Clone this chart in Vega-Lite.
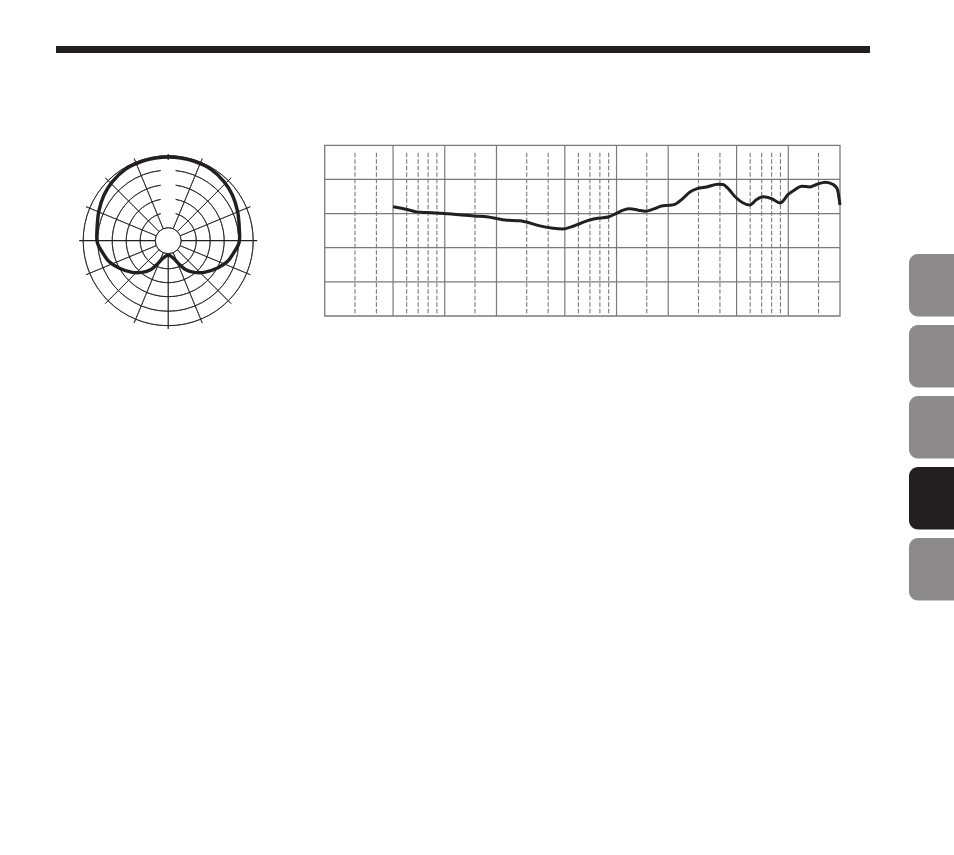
{
  "$schema": "https://vega.github.io/schema/vega-lite/v6.json",
  "width": 954,
  "height": 855,
  "autosize": "none",
  "padding": 0,
  "background": "white",
  "config": {"view": {"stroke": null}},
  "datasets": {
    "header": [{"part": "header bar"}],
    "frame": [{"part": "frequency response frame"}],
    "tabs": [
      {"tab": 1, "state": "inactive"},
      {"tab": 2, "state": "inactive"},
      {"tab": 3, "state": "inactive"},
      {"tab": 4, "state": "active"},
      {"tab": 5, "state": "inactive"}
    ],
    "rings": [
      {"r": 0.153, "start": 0, "end": 360},
      {"r": 0.33, "start": 15.5, "end": 344.5},
      {"r": 0.494, "start": 10.3, "end": 349.7},
      {"r": 0.659, "start": 7.7, "end": 352.3},
      {"r": 0.83, "start": 6.1, "end": 353.9},
      {"r": 1.0, "start": 0, "end": 360}
    ],
    "spokes": [
      {"angle": 0, "inner": 0.95, "outer": 1.02, "kind": "axis"},
      {"angle": 22.5, "inner": 0.153, "outer": 1.047, "kind": "spoke"},
      {"angle": 45, "inner": 0.153, "outer": 1.047, "kind": "spoke"},
      {"angle": 67.5, "inner": 0.153, "outer": 1.047, "kind": "spoke"},
      {"angle": 90, "inner": 0.153, "outer": 1.047, "kind": "axis"},
      {"angle": 112.5, "inner": 0.153, "outer": 1.047, "kind": "spoke"},
      {"angle": 135, "inner": 0.153, "outer": 1.047, "kind": "spoke"},
      {"angle": 157.5, "inner": 0.153, "outer": 1.047, "kind": "spoke"},
      {"angle": 180, "inner": 0.153, "outer": 1.04, "kind": "axis"},
      {"angle": 202.5, "inner": 0.153, "outer": 1.047, "kind": "spoke"},
      {"angle": 225, "inner": 0.153, "outer": 1.047, "kind": "spoke"},
      {"angle": 247.5, "inner": 0.153, "outer": 1.047, "kind": "spoke"},
      {"angle": 270, "inner": 0.153, "outer": 1.047, "kind": "axis"},
      {"angle": 292.5, "inner": 0.153, "outer": 1.047, "kind": "spoke"},
      {"angle": 315, "inner": 0.153, "outer": 1.047, "kind": "spoke"},
      {"angle": 337.5, "inner": 0.153, "outer": 1.047, "kind": "spoke"}
    ],
    "polar": [
      {"i": 0, "x": 0.0, "y": -0.16},
      {"i": 1, "x": 0.069, "y": -0.212},
      {"i": 2, "x": 0.135, "y": -0.282},
      {"i": 3, "x": 0.208, "y": -0.341},
      {"i": 4, "x": 0.306, "y": -0.372},
      {"i": 5, "x": 0.424, "y": -0.372},
      {"i": 6, "x": 0.58, "y": -0.321},
      {"i": 7, "x": 0.7, "y": -0.242},
      {"i": 8, "x": 0.775, "y": -0.135},
      {"i": 9, "x": 0.82, "y": -0.06},
      {"i": 10, "x": 0.838, "y": 0.0},
      {"i": 11, "x": 0.838, "y": 0.12},
      {"i": 12, "x": 0.817, "y": 0.342},
      {"i": 13, "x": 0.755, "y": 0.538},
      {"i": 14, "x": 0.656, "y": 0.695},
      {"i": 15, "x": 0.5, "y": 0.842},
      {"i": 16, "x": 0.3, "y": 0.935},
      {"i": 17, "x": 0.15, "y": 0.972},
      {"i": 18, "x": 0.0, "y": 0.985},
      {"i": 19, "x": -0.15, "y": 0.972},
      {"i": 20, "x": -0.3, "y": 0.935},
      {"i": 21, "x": -0.5, "y": 0.842},
      {"i": 22, "x": -0.656, "y": 0.695},
      {"i": 23, "x": -0.755, "y": 0.538},
      {"i": 24, "x": -0.817, "y": 0.342},
      {"i": 25, "x": -0.838, "y": 0.12},
      {"i": 26, "x": -0.838, "y": 0.0},
      {"i": 27, "x": -0.82, "y": -0.06},
      {"i": 28, "x": -0.775, "y": -0.135},
      {"i": 29, "x": -0.7, "y": -0.242},
      {"i": 30, "x": -0.58, "y": -0.321},
      {"i": 31, "x": -0.424, "y": -0.372},
      {"i": 32, "x": -0.306, "y": -0.372},
      {"i": 33, "x": -0.208, "y": -0.341},
      {"i": 34, "x": -0.135, "y": -0.282},
      {"i": 35, "x": -0.069, "y": -0.212},
      {"i": 36, "x": 0.0, "y": -0.16}
    ],
    "grid_h": [{"db": -20}, {"db": -10}, {"db": 0}, {"db": 10}],
    "grid_v": [
      {"f": 60, "kind": "dashed"}, {"f": 80, "kind": "dashed"}, {"f": 100, "kind": "solid"},
      {"f": 120, "kind": "dashed"}, {"f": 140, "kind": "dashed"}, {"f": 160, "kind": "dashed"}, {"f": 180, "kind": "dashed"},
      {"f": 200, "kind": "solid"}, {"f": 300, "kind": "dashed"}, {"f": 400, "kind": "solid"},
      {"f": 600, "kind": "dashed"}, {"f": 800, "kind": "dashed"}, {"f": 1000, "kind": "solid"},
      {"f": 1200, "kind": "dashed"}, {"f": 1400, "kind": "dashed"}, {"f": 1600, "kind": "dashed"}, {"f": 1800, "kind": "dashed"},
      {"f": 2000, "kind": "solid"}, {"f": 3000, "kind": "dashed"}, {"f": 4000, "kind": "solid"},
      {"f": 6000, "kind": "dashed"}, {"f": 8000, "kind": "dashed"}, {"f": 10000, "kind": "solid"},
      {"f": 12000, "kind": "dashed"}, {"f": 14000, "kind": "dashed"}, {"f": 16000, "kind": "dashed"}, {"f": 18000, "kind": "dashed"},
      {"f": 20000, "kind": "solid"}, {"f": 30000, "kind": "dashed"}
    ],
    "response": [
      {"f": 100, "db": 2.0}, {"f": 121, "db": 1.2}, {"f": 138, "db": 0.5}, {"f": 158, "db": 0.3},
      {"f": 198, "db": 0.0}, {"f": 297, "db": -0.7}, {"f": 358, "db": -1.0}, {"f": 397, "db": -1.4},
      {"f": 448, "db": -1.9}, {"f": 548, "db": -2.1}, {"f": 588, "db": -2.4}, {"f": 716, "db": -3.6},
      {"f": 856, "db": -4.3}, {"f": 979, "db": -4.5}, {"f": 1119, "db": -3.7}, {"f": 1224, "db": -2.9},
      {"f": 1387, "db": -1.9}, {"f": 1586, "db": -1.3}, {"f": 1789, "db": -1.0}, {"f": 1983, "db": 0.0},
      {"f": 2188, "db": 1.0}, {"f": 2392, "db": 1.4}, {"f": 2675, "db": 1.0}, {"f": 2938, "db": 0.7},
      {"f": 3270, "db": 1.3}, {"f": 3660, "db": 2.2}, {"f": 4000, "db": 2.4}, {"f": 4375, "db": 2.7},
      {"f": 4786, "db": 4.1}, {"f": 5349, "db": 6.3}, {"f": 5898, "db": 7.3}, {"f": 6690, "db": 7.8},
      {"f": 7816, "db": 8.6}, {"f": 8356, "db": 8.5}, {"f": 8936, "db": 7.3}, {"f": 9906, "db": 4.7},
      {"f": 10925, "db": 3.1}, {"f": 11950, "db": 2.5}, {"f": 13077, "db": 4.1}, {"f": 14285, "db": 4.9},
      {"f": 15983, "db": 4.4}, {"f": 17937, "db": 3.1}, {"f": 19971, "db": 5.6}, {"f": 21846, "db": 7.0},
      {"f": 23893, "db": 8.0}, {"f": 26710, "db": 7.8}, {"f": 29450, "db": 8.6}, {"f": 32961, "db": 9.2},
      {"f": 36500, "db": 8.5}, {"f": 38510, "db": 7.3}, {"f": 40000, "db": 2.5}
    ]
  },
  "layer": [
    {
      "data": {"name": "header"},
      "mark": {"type": "rect", "color": "#231f20"},
      "encoding": {
        "x": {"datum": 0, "type": "quantitative", "scale": {"domain": [0, 1], "range": [56, 870]}, "axis": null},
        "x2": {"datum": 1},
        "y": {"datum": 0, "type": "quantitative", "scale": {"domain": [0, 1], "range": [46, 53]}, "axis": null},
        "y2": {"datum": 1}
      }
    },
    {
      "data": {"name": "tabs"},
      "mark": {"type": "rect", "cornerRadius": 9, "clip": true},
      "encoding": {
        "x": {"datum": 0, "type": "quantitative", "scale": {"domain": [0, 1], "range": [909, 975]}, "axis": null},
        "x2": {"datum": 1},
        "y": {"field": "tab", "type": "ordinal", "scale": {"type": "band", "range": [254, 600.5], "paddingInner": 0.12, "paddingOuter": 0}, "axis": null},
        "color": {"field": "state", "type": "nominal", "scale": {"domain": ["inactive", "active"], "range": ["#8c8a8a", "#231f20"]}, "legend": null}
      }
    },
    {
      "layer": [
        {
          "data": {"name": "rings"},
          "mark": {"type": "arc", "filled": false, "stroke": "#231f20", "strokeWidth": 0.8},
          "encoding": {
            "x": {"datum": 0, "type": "quantitative", "scale": {"domain": [-1, 1], "range": [83.2, 253.2], "nice": false, "zero": false}, "axis": null},
            "y": {"datum": 0, "type": "quantitative", "scale": {"domain": [-1, 1], "range": [325.7, 155.7], "nice": false, "zero": false}, "axis": null},
            "theta": {"field": "start", "type": "quantitative", "scale": {"domain": [0, 360], "range": [0, 6.283185307179586]}, "stack": null},
            "theta2": {"field": "end"},
            "radius": {"field": "r", "type": "quantitative", "scale": {"type": "linear", "domain": [0, 1], "range": [0, 85], "zero": true}, "stack": null},
            "radius2": {"field": "r"}
          }
        },
        {
          "data": {"name": "spokes"},
          "mark": {"type": "arc", "filled": false, "stroke": "#231f20"},
          "encoding": {
            "x": {"datum": 0, "type": "quantitative"},
            "y": {"datum": 0, "type": "quantitative"},
            "theta": {"field": "angle", "type": "quantitative", "stack": null},
            "theta2": {"field": "angle"},
            "radius": {"field": "outer", "type": "quantitative", "stack": null},
            "radius2": {"field": "inner"},
            "strokeWidth": {"field": "kind", "type": "nominal", "scale": {"domain": ["spoke", "axis"], "range": [0.75, 1.2]}, "legend": null}
          }
        },
        {
          "data": {"name": "polar"},
          "mark": {"type": "line", "interpolate": "catmull-rom", "stroke": "#231f20", "strokeWidth": 3.4},
          "encoding": {
            "x": {"field": "x", "type": "quantitative"},
            "y": {"field": "y", "type": "quantitative"},
            "order": {"field": "i", "type": "quantitative"}
          }
        }
      ]
    },
    {
      "layer": [
        {
          "data": {"name": "grid_h"},
          "mark": {"type": "rule", "stroke": "#7a7a7a", "strokeWidth": 1.2},
          "encoding": {
            "x": {"datum": 40, "type": "quantitative", "scale": {"type": "log", "domain": [40, 40000], "range": [324.7, 840], "nice": false}, "axis": null},
            "x2": {"datum": 40000},
            "y": {"field": "db", "type": "quantitative", "scale": {"domain": [-30, 20], "range": [316, 145.3], "nice": false, "zero": false}, "axis": null}
          }
        },
        {
          "data": {"name": "grid_v"},
          "transform": [{"filter": "datum.kind === 'solid'"}],
          "mark": {"type": "rule", "stroke": "#7a7a7a", "strokeWidth": 1.2},
          "encoding": {
            "x": {"field": "f", "type": "quantitative"},
            "y": {"datum": -30, "type": "quantitative"},
            "y2": {"datum": 20}
          }
        },
        {
          "data": {"name": "grid_v"},
          "transform": [{"filter": "datum.kind === 'dashed'"}],
          "mark": {"type": "rule", "stroke": "#7a7a7a", "strokeWidth": 1.1, "strokeDash": [4.5, 2]},
          "encoding": {
            "x": {"field": "f", "type": "quantitative"},
            "y": {"datum": -29.2, "type": "quantitative"},
            "y2": {"datum": 18.4}
          }
        },
        {
          "data": {"name": "frame"},
          "mark": {"type": "rect", "filled": false, "stroke": "#7a7a7a", "strokeWidth": 1.3},
          "encoding": {
            "x": {"datum": 40, "type": "quantitative"},
            "x2": {"datum": 40000},
            "y": {"datum": -30, "type": "quantitative"},
            "y2": {"datum": 20}
          }
        },
        {
          "data": {"name": "response"},
          "mark": {"type": "line", "interpolate": "monotone", "stroke": "#231f20", "strokeWidth": 3},
          "encoding": {
            "x": {"field": "f", "type": "quantitative"},
            "y": {"field": "db", "type": "quantitative"}
          }
        }
      ]
    }
  ],
  "resolve": {"scale": {"x": "independent", "y": "independent", "color": "independent", "strokeWidth": "independent"}}
}
